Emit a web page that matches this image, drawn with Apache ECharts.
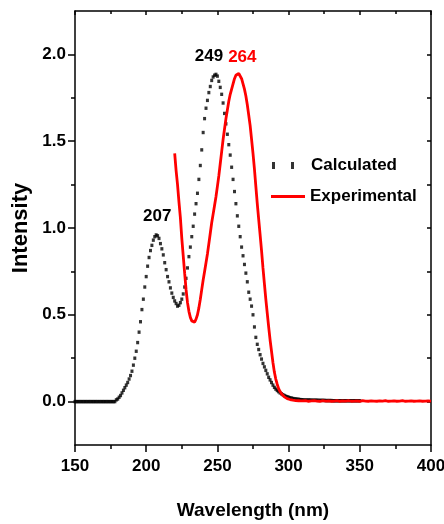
<!DOCTYPE html>
<html>
<head>
<meta charset="utf-8">
<script src="https://cdn.jsdelivr.net/npm/echarts@6/dist/echarts.min.js"></script>
<style>
  html, body { margin: 0; padding: 0; background: #fff; }
  #chart { width: 444px; height: 524px; }
</style>
</head>
<body>
<div id="chart"></div>
<script>
// Calculated spectrum, one value per nm starting at 150 nm
const calcStart = 150;
const calcIntensity = [
  0, 0, 0, 0, 0, 0, 0, 0, 0, 0, 0, 0, 0, 0, 0, 0, 0, 0, 0, 0, 0, 0, 0, 0, 0, 0, 0, 0, 0,
  0.01, 0.015, 0.025, 0.035, 0.05, 0.065, 0.08, 0.095, 0.11, 0.13, 0.15, 0.175,
  0.21, 0.25, 0.29, 0.34, 0.40, 0.46, 0.53, 0.59, 0.66, 0.72, 0.78, 0.83, 0.87, 0.90, 0.93, 0.95, 0.96,
  0.955, 0.94, 0.91, 0.88, 0.845, 0.80, 0.76, 0.72, 0.69, 0.655, 0.625, 0.60, 0.58, 0.565, 0.55,
  0.555, 0.57, 0.59, 0.62, 0.66, 0.71, 0.77, 0.835, 0.89, 0.95, 1.01, 1.08, 1.14, 1.20, 1.28, 1.36,
  1.45, 1.55, 1.63, 1.69, 1.735, 1.78, 1.815, 1.85, 1.87, 1.88, 1.885,
  1.875, 1.845, 1.81, 1.77, 1.72, 1.66, 1.60, 1.54, 1.48, 1.42, 1.35, 1.28, 1.21, 1.14, 1.07, 1.01,
  0.95, 0.89, 0.84, 0.79, 0.74, 0.69, 0.63, 0.59, 0.55, 0.50,
  0.43, 0.37, 0.33, 0.30, 0.27, 0.245, 0.22, 0.20, 0.18, 0.16, 0.14, 0.125, 0.11, 0.095, 0.082,
  0.072, 0.064, 0.057, 0.05, 0.045, 0.04, 0.035, 0.031, 0.028, 0.025,
  0.022, 0.02, 0.018, 0.016, 0.015, 0.014, 0.013, 0.012, 0.011, 0.01,
  0.009, 0.009, 0.009, 0.009, 0.009, 0.008, 0.008, 0.008, 0.008, 0.008,
  0.007, 0.007, 0.007, 0.007, 0.007, 0.006, 0.006, 0.006, 0.006, 0.006,
  0.005, 0.005, 0.005, 0.005, 0.005, 0.005, 0.005, 0.005, 0.005, 0.005,
  0.005, 0.005, 0.005, 0.005, 0.005, 0.005, 0.005, 0.005, 0.005, 0.005
];

// Experimental spectrum: 1 nm steps 220-310, then 2 nm steps 312-400
const expIntensityFine = [
  1.43, 1.33, 1.25, 1.15, 1.06, 0.94, 0.84, 0.74, 0.645, 0.57, 0.52, 0.485, 0.465, 0.455, 0.458, 0.475,
  0.50, 0.54, 0.59, 0.645, 0.70, 0.75, 0.80, 0.85, 0.91, 0.97, 1.03, 1.08, 1.13, 1.18, 1.24, 1.30,
  1.37, 1.44, 1.51, 1.57, 1.63, 1.68, 1.73, 1.77, 1.80, 1.83, 1.86, 1.88, 1.89, 1.89,
  1.88, 1.86, 1.83, 1.80, 1.76, 1.71, 1.65, 1.59, 1.51, 1.43, 1.34, 1.24, 1.14, 1.05, 0.96, 0.87,
  0.77, 0.68, 0.59, 0.51, 0.43, 0.355, 0.29, 0.225, 0.17, 0.13, 0.10, 0.075, 0.058, 0.045, 0.035,
  0.027, 0.021, 0.017, 0.014, 0.012, 0.01,
  0.008, 0.007, 0.006, 0.005, 0.005, 0.004, 0.004, 0.004
];
const expIntensityCoarse = [
  0.005, 0.002, 0.004, 0.006, 0.003, 0.002, 0.005, 0.003, 0.004, 0.002,
  0.003, 0.005, 0.002, 0.004, 0.003, 0.006, 0.002, 0.003, 0.004, 0.002,
  0.005, 0.003, 0.002, 0.004, 0.003, 0.002, 0.004, 0.003, 0.005, 0.002,
  0.003, 0.004, 0.002, 0.003, 0.005, 0.002, 0.003, 0.004, 0.002, 0.003,
  0.004, 0.002, 0.003, 0.004, 0.003
];

const xTicks = [150, 200, 250, 300, 350, 400];
const yTicks = [0, 0.5, 1.0, 1.5, 2.0];
const yMinorTicks = [0.25, 0.75, 1.25, 1.75];
const peakLabels = { calc: [207, 249], exp: [264] };

const calcData = calcIntensity.map((v, i) => [calcStart + i, v]);
const expData = expIntensityFine.map((v, i) => [220 + i, v])
  .concat(expIntensityCoarse.map((v, i) => [312 + 2 * i, v]));

const peakPoint = (data, nm) => data.find(d => d[0] === nm);

const narrow = "'Liberation Sans Narrow', 'Arial Narrow', 'Liberation Sans', sans-serif";
const wide = "'Liberation Sans', Arial, sans-serif";

const myChart = echarts.init(document.getElementById('chart'));

const lineStyle = { color: '#000', width: 1.5 };

const option = {
  animation: false,
  backgroundColor: '#fff',
  grid: { left: 75, top: 11, right: 13, bottom: 79, outerBoundsMode: 'none', containLabel: false },
  legend: [
    {
      data: [{ name: 'Calculated', icon: 'path://M0,0h3v7h-3zM19,0h3v7h-3z' }],
      left: 272, top: 157, padding: 0,
      itemWidth: 22, itemHeight: 7,
      textStyle: { fontFamily: narrow, fontWeight: 'bold', fontSize: 17, color: '#000', padding: [0, 0, 0, 12] },
      selectedMode: false
    },
    {
      data: [{ name: 'Experimental', icon: 'rect' }],
      left: 271, top: 188, padding: 0,
      itemWidth: 34, itemHeight: 3,
      textStyle: { fontFamily: narrow, fontWeight: 'bold', fontSize: 17, color: '#000' },
      selectedMode: false
    }
  ],
  xAxis: [
    {
      type: 'value', position: 'bottom', min: 150, max: 400, interval: 50,
      name: 'Wavelength (nm)', nameLocation: 'middle', nameGap: 56,
      nameTextStyle: { fontFamily: narrow, fontWeight: 'bold', fontSize: 19, color: '#000' },
      axisLine: { show: true, onZero: false, lineStyle },
      axisTick: { show: true, inside: false, length: 7, lineStyle },
      minorTick: { show: true, splitNumber: 2, length: 4, lineStyle },
      axisLabel: {
        fontFamily: narrow, fontWeight: 'bold', fontSize: 17, color: '#000', margin: 13,
        customValues: xTicks, hideOverlap: false
      },
      splitLine: { show: false }
    },
    {
      type: 'value', position: 'top', min: 150, max: 400, interval: 50,
      axisLine: { show: true, onZero: false, lineStyle },
      axisTick: { show: true, inside: true, length: 4, lineStyle },
      minorTick: { show: true, splitNumber: 2, length: 3, lineStyle },
      axisLabel: { show: false },
      splitLine: { show: false }
    }
  ],
  yAxis: [
    {
      type: 'value', position: 'left', min: -0.25, max: 2.25,
      name: 'Intensity', nameLocation: 'middle', nameGap: 38, nameRotate: 90,
      nameTextStyle: { fontFamily: wide, fontWeight: 'bold', fontSize: 22, color: '#000' },
      axisLine: { show: true, onZero: false, lineStyle },
      axisTick: { show: true, inside: false, length: 7, lineStyle, customValues: yTicks },
      axisLabel: {
        fontFamily: narrow, fontWeight: 'bold', fontSize: 17, color: '#000', margin: 9,
        customValues: yTicks, formatter: v => v.toFixed(1)
      },
      splitLine: { show: false }
    },
    {
      type: 'value', position: 'left', min: -0.25, max: 2.25,
      axisLine: { show: false },
      axisTick: { show: true, inside: false, length: 4, lineStyle, customValues: yMinorTicks },
      axisLabel: { show: false },
      splitLine: { show: false }
    },
    {
      type: 'value', position: 'right', min: -0.25, max: 2.25,
      axisLine: { show: true, onZero: false, lineStyle },
      axisTick: { show: true, inside: true, length: 4, lineStyle, customValues: yTicks.concat(yMinorTicks) },
      axisLabel: { show: false },
      splitLine: { show: false }
    }
  ],
  series: [
    {
      name: 'Calculated',
      type: 'scatter',
      data: calcData,
      symbol: 'rect',
      symbolSize: [3, 3.4],
      itemStyle: { color: '#000' },
      markPoint: {
        symbol: 'circle', symbolSize: 0,
        label: {
          show: true, position: 'top', distance: 10, formatter: '{c}',
          fontFamily: narrow, fontWeight: 'bold', fontSize: 17, color: '#000'
        },
        data: [
          { coord: peakPoint(calcData, peakLabels.calc[0]), value: peakLabels.calc[0], label: { offset: [1, 0] } },
          { coord: peakPoint(calcData, peakLabels.calc[1]), value: peakLabels.calc[1], label: { offset: [-7, 0] } }
        ]
      }
    },
    {
      name: 'Experimental',
      type: 'line',
      data: expData,
      showSymbol: false,
      smooth: false,
      lineStyle: { color: '#ff0000', width: 2.8 },
      itemStyle: { color: '#ff0000' },
      markPoint: {
        symbol: 'circle', symbolSize: 0,
        label: {
          show: true, position: 'top', distance: 8, formatter: '{c}', offset: [5, 0],
          fontFamily: narrow, fontWeight: 'bold', fontSize: 17, color: '#ff0000'
        },
        data: [
          { coord: peakPoint(expData, peakLabels.exp[0]), value: peakLabels.exp[0] }
        ]
      }
    }
  ]
};

option && myChart.setOption(option);
</script>
</body>
</html>
